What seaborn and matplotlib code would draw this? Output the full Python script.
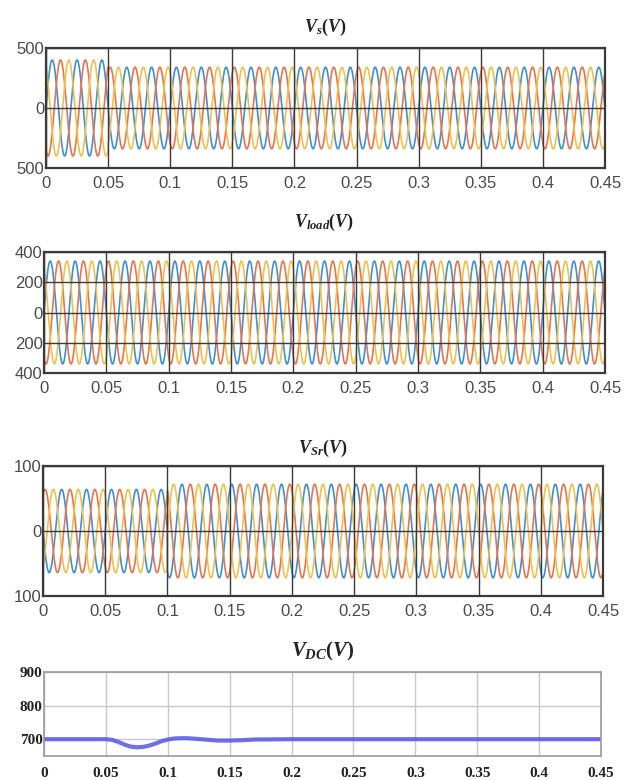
import numpy as np
import pandas as pd
import matplotlib
matplotlib.use("Agg")
import matplotlib.pyplot as plt
import seaborn as sns

# ---------------- data ----------------
freq_hz = 50.0
t_end = 0.45
phase_names = ["a", "b", "c"]
phase_shift_deg = [0, -120, 120]
phase_colors = ["#3f8fd6", "#e8744c", "#f1c04c"]

# source voltage: amplitude per time segment
vs_seg_start = [0.0, 0.05]
vs_seg_amp = [400, 340]
vs_seg_phase = [0, 0]

# load voltage
vl_seg_start = [0.0]
vl_seg_amp = [340]
vl_seg_phase = [0]

# series (injected) voltage
vsr_seg_start = [0.0, 0.10]
vsr_seg_amp = [64, 72]
vsr_seg_phase = [180, 240]

# DC-link voltage
vdc_t = [0.0, 0.05, 0.055, 0.06, 0.065, 0.07, 0.075, 0.08, 0.085, 0.09, 0.095,
         0.10, 0.105, 0.11, 0.115, 0.12, 0.13, 0.14, 0.15, 0.16, 0.17, 0.20, 0.45]
vdc_v = [700, 700, 698, 692, 684, 678, 676, 677, 681, 687, 694,
         699, 702, 703, 703, 702, 699, 696, 696, 697, 699, 700, 700]

x_ticks = [0, 0.05, 0.1, 0.15, 0.2, 0.25, 0.3, 0.35, 0.4, 0.45]
x_tick_labels = ["0", "0.05", "0.1", "0.15", "0.2", "0.25", "0.3", "0.35", "0.4", "0.45"]

p1_yticks = [-500, 0, 500]
p1_ylabels = ["500", "0", "500"]
p2_yticks = [-400, -200, 0, 200, 400]
p2_ylabels = ["400", "200", "0", "200", "400"]
p3_yticks = [-100, 0, 100]
p3_ylabels = ["100", "0", "100"]
p4_yticks = [700, 800, 900]
p4_ylabels = ["700", "800", "900"]

titles = [r"$V_{s}(V)$", r"$V_{load}(V)$", r"$V_{Sr}(V)$", r"$V_{DC}(V)$"]


def three_phase(seg_start, seg_amp, seg_phase):
    t = np.arange(0, t_end + 1e-9, 0.0001)
    idx = np.searchsorted(seg_start, t, side="right") - 1
    amp = np.array(seg_amp)[idx]
    ph = np.deg2rad(np.array(seg_phase)[idx])
    frames = []
    for name, sh in zip(phase_names, phase_shift_deg):
        v = amp * np.sin(2 * np.pi * freq_hz * t + ph + np.deg2rad(sh))
        frames.append(pd.DataFrame({"t": t, "v": v, "phase": name}))
    return pd.concat(frames, ignore_index=True)


sns.set_theme(style="white")
plt.rcParams["font.family"] = ["Liberation Sans", "DejaVu Sans"]
plt.rcParams["mathtext.fontset"] = "custom"
plt.rcParams["mathtext.it"] = "Liberation Serif:italic:bold"
plt.rcParams["mathtext.rm"] = "Liberation Serif:bold"
plt.rcParams["mathtext.bf"] = "Liberation Serif:bold"

W, H = 630, 780
fig = plt.figure(figsize=(6.3, 7.8), dpi=100)


def make_ax(l, t, r, b):
    return fig.add_axes([l / W, 1 - b / H, (r - l) / W, (b - t) / H])


rects = [(46, 48, 605, 168), (44, 252, 605, 373), (43, 466, 603, 596), (44, 672, 601, 756)]
title_y = [27, 222, 448, 651]
axes = [make_ax(*r) for r in rects]

pal = dict(zip(phase_names, phase_colors))
datasets = [
    three_phase(vs_seg_start, vs_seg_amp, vs_seg_phase),
    three_phase(vl_seg_start, vl_seg_amp, vl_seg_phase),
    three_phase(vsr_seg_start, vsr_seg_amp, vsr_seg_phase),
]
ylims = [(-500, 500), (-400, 400), (-100, 100)]
yt = [(p1_yticks, p1_ylabels), (p2_yticks, p2_ylabels), (p3_yticks, p3_ylabels)]

for ax, df, yl, (ytk, ylb) in zip(axes[:3], datasets, ylims, yt):
    sns.lineplot(data=df, x="t", y="v", hue="phase", palette=pal, ax=ax,
                 estimator=None, sort=False, linewidth=1.2, legend=False, zorder=2)
    ax.set_xlim(0, t_end)
    ax.set_ylim(*yl)
    ax.set_xticks(x_ticks)
    ax.set_xticklabels(x_tick_labels)
    ax.set_yticks(ytk)
    ax.set_yticklabels(ylb)
    ax.grid(True, color="#3a3a3a", linewidth=1.0, zorder=3)
    ax.set_axisbelow(False)
    ax.set_xlabel("")
    ax.set_ylabel("")
    for s in ax.spines.values():
        s.set_color("#3a3a3a")
        s.set_linewidth(1.6)
    ax.tick_params(axis="both", labelsize=12, colors="#4a4a4a", length=0)
    ax.tick_params(axis="x", pad=6)
    ax.tick_params(axis="y", pad=1)

# DC-link panel
ax4 = axes[3]
dc = pd.DataFrame({"t": vdc_t, "v": vdc_v})
sns.lineplot(data=dc, x="t", y="v", ax=ax4, color="#5656ea", linewidth=3.0,
             alpha=0.85, estimator=None, sort=False)
ax4.set_xlim(0, t_end)
ax4.set_ylim(650, 900)
ax4.set_xticks(x_ticks)
ax4.set_xticklabels(x_tick_labels)
ax4.set_yticks(p4_yticks)
ax4.set_yticklabels(p4_ylabels)
ax4.grid(True, color="#c8c8c8", linewidth=1.0)
ax4.set_xlabel("")
ax4.set_ylabel("")
for s in ax4.spines.values():
    s.set_color("#9a9a9a")
    s.set_linewidth(1.2)
ax4.tick_params(axis="both", length=0, colors="#222222")
ax4.tick_params(axis="x", pad=8)
ax4.tick_params(axis="y", pad=1)
for lab in ax4.get_xticklabels() + ax4.get_yticklabels():
    lab.set_family(["Liberation Serif", "DejaVu Serif"])
    lab.set_fontweight("bold")
    lab.set_fontsize(11)

for ax, ttl, ty, fs in zip(axes, titles, title_y, [13, 13, 13, 15]):
    pos = ax.get_position()
    fig.text((pos.x0 + pos.x1) / 2, 1 - ty / H, ttl, ha="center", va="center",
             fontsize=fs, color="#222222")

fig.savefig("out.png", dpi=100, facecolor="white")
